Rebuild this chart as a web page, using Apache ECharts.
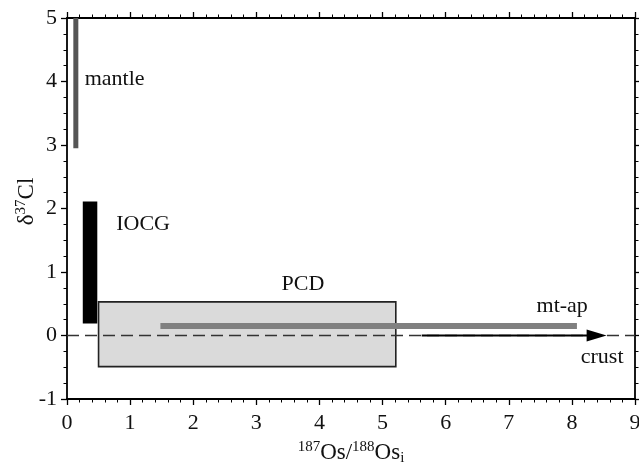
<!DOCTYPE html>
<html><head><meta charset="utf-8">
<script src="https://cdn.jsdelivr.net/npm/echarts@6/dist/echarts.min.js"></script>
<style>html,body{margin:0;padding:0;background:#fff}#c{width:639px;height:471px}</style>
</head><body><div id="c"></div>
<script>
// ---- data ----
const xRange = [0, 9];
const yRange = [-1, 5];
const mantleBar = [0.14, 2.95, 5.0];          // x, y from, y to
const iocgBar = [0.25, 0.48, 0.19, 2.11];     // x from, x to, y from, y to
const pcdBox = [0.50, 5.21, -0.49, 0.53];     // x from, x to, y from, y to
const mtapLine = [1.48, 8.08, 0.15];          // x from, x to, y
const crustArrow = [5.62, 8.55, 0];           // x from, x to, y
const zeroLine = [0, 9, 0];                   // x from, x to, y
const labelNames = ['mantle', 'IOCG', 'PCD', 'mt-ap', 'crust'];
const labelX = [0.28, 0.78, 3.40, 7.44, 8.14];
const labelY = [4.03, 1.75, 0.80, 0.46, -0.34];

const FONT = "'Liberation Serif','Times New Roman',serif";
const chart = echarts.init(document.getElementById('c'), null, {renderer: 'canvas'});

function axisBase(pos, showLabel) {
  return {
    type: 'value', position: pos,
    axisLine: {show: true, onZero: false, lineStyle: {color: '#000', width: 1.8}},
    axisTick: {show: true, inside: false, length: 6, lineStyle: {color: '#000', width: 1.3}},
    minorTick: {show: true, length: 3.5, lineStyle: {color: '#000', width: 1}},
    splitLine: {show: false},
    minorSplitLine: {show: false},
    axisLabel: {show: showLabel, fontSize: 22, color: '#111', fontFamily: FONT, margin: 10}
  };
}

const xBottom = Object.assign(axisBase('bottom', true), {
  min: xRange[0], max: xRange[1], interval: 1,
  name: '{sup|187}{b|Os/}{sup|188}{b|Os}{sub|i}',
  nameLocation: 'middle', nameGap: 41, nameMoveOverlap: false,
  nameTextStyle: {
    fontFamily: FONT, color: '#111',
    rich: {
      b: {fontSize: 23, fontFamily: FONT, color: '#111', lineHeight: 26, verticalAlign: 'middle'},
      sup: {fontSize: 15, fontFamily: FONT, color: '#111', verticalAlign: 'top', lineHeight: 26},
      sub: {fontSize: 15, fontFamily: FONT, color: '#111', verticalAlign: 'bottom', lineHeight: 18}
    }
  }
});
xBottom.axisLabel.margin = 13;
xBottom.minorTick.splitNumber = 5;
const xTop = Object.assign(axisBase('top', false), {min: xRange[0], max: xRange[1], interval: 1});
xTop.minorTick.splitNumber = 5;

const yLeft = Object.assign(axisBase('left', true), {
  min: yRange[0], max: yRange[1], interval: 1,
  name: '{b|δ}{sup|37}{b|Cl}',
  nameLocation: 'middle', nameGap: 27, nameRotate: 90, nameMoveOverlap: false,
  nameTextStyle: {
    fontFamily: FONT, color: '#111', padding: [0, 0, 0, 14],
    rich: {
      b: {fontSize: 23, fontFamily: FONT, color: '#111', lineHeight: 26, verticalAlign: 'middle'},
      sup: {fontSize: 15, fontFamily: FONT, color: '#111', verticalAlign: 'top', lineHeight: 26}
    }
  }
});
yLeft.minorTick.splitNumber = 4;
const yRight = Object.assign(axisBase('right', false), {min: yRange[0], max: yRange[1], interval: 1});
yRight.minorTick.splitNumber = 4;

const option = {
  animation: false,
  backgroundColor: '#fff',
  grid: {left: 67, right: 4, top: 18, bottom: 72, containLabel: false, outerBoundsMode: 'none'},
  xAxis: [xBottom, xTop],
  yAxis: [yLeft, yRight],
  series: [
    { // PCD box
      type: 'custom', z: 1, data: [pcdBox], encode: {x: [0, 1], y: [2, 3]},
      renderItem: (p, api) => {
        const a = api.coord([api.value(0), api.value(3)]);
        const b = api.coord([api.value(1), api.value(2)]);
        return {type: 'rect', shape: {x: a[0], y: a[1], width: b[0] - a[0], height: b[1] - a[1]},
          style: {fill: '#dadada', stroke: '#222', lineWidth: 1.6}};
      }
    },
    { // zero dashed line
      type: 'custom', z: 2, data: [zeroLine], encode: {x: [0, 1], y: 2},
      renderItem: (p, api) => {
        const a = api.coord([api.value(0), api.value(2)]);
        const b = api.coord([api.value(1), api.value(2)]);
        return {type: 'line', shape: {x1: a[0], y1: a[1], x2: b[0], y2: b[1]},
          style: {stroke: '#333', lineWidth: 1.5, lineDash: [12, 6]}};
      }
    },
    { // mantle bar
      type: 'custom', z: 3, data: [mantleBar], encode: {x: 0, y: [1, 2]},
      renderItem: (p, api) => {
        const a = api.coord([api.value(0), api.value(2)]);
        const b = api.coord([api.value(0), api.value(1)]);
        return {type: 'rect', shape: {x: a[0] - 2.5, y: a[1], width: 5, height: b[1] - a[1]},
          style: {fill: '#555'}};
      }
    },
    { // IOCG bar
      type: 'custom', z: 3, data: [iocgBar], encode: {x: [0, 1], y: [2, 3]},
      renderItem: (p, api) => {
        const a = api.coord([api.value(0), api.value(3)]);
        const b = api.coord([api.value(1), api.value(2)]);
        return {type: 'rect', shape: {x: a[0], y: a[1], width: b[0] - a[0], height: b[1] - a[1]},
          style: {fill: '#000'}};
      }
    },
    { // mt-ap line
      type: 'custom', z: 3, data: [mtapLine], encode: {x: [0, 1], y: 2},
      renderItem: (p, api) => {
        const a = api.coord([api.value(0), api.value(2)]);
        const b = api.coord([api.value(1), api.value(2)]);
        return {type: 'line', shape: {x1: a[0], y1: a[1], x2: b[0], y2: b[1]},
          style: {stroke: '#808080', lineWidth: 6}};
      }
    },
    { // crust arrow
      type: 'custom', z: 4, data: [crustArrow], encode: {x: [0, 1], y: 2},
      renderItem: (p, api) => {
        const a = api.coord([api.value(0), api.value(2)]);
        const b = api.coord([api.value(1), api.value(2)]);
        return {type: 'group', children: [
          {type: 'line', shape: {x1: a[0], y1: a[1], x2: b[0] - 10, y2: b[1]},
            style: {stroke: '#000', lineWidth: 1.8}},
          {type: 'polygon', shape: {points: [[b[0], b[1]], [b[0] - 20, b[1] - 6], [b[0] - 20, b[1] + 6]]},
            style: {fill: '#000'}}
        ]};
      }
    },
    { // text labels
      type: 'custom', z: 5,
      data: labelNames.map((n, i) => [labelX[i], labelY[i], n]),
      encode: {x: 0, y: 1},
      renderItem: (p, api) => {
        const c = api.coord([api.value(0), api.value(1)]);
        return {type: 'text', x: c[0], y: c[1],
          style: {text: labelNames[p.dataIndex], fontSize: 22, fontFamily: FONT, fill: '#111',
            align: 'left', verticalAlign: 'middle'}};
      }
    }
  ]
};
chart.setOption(option);
</script>
</body></html>
